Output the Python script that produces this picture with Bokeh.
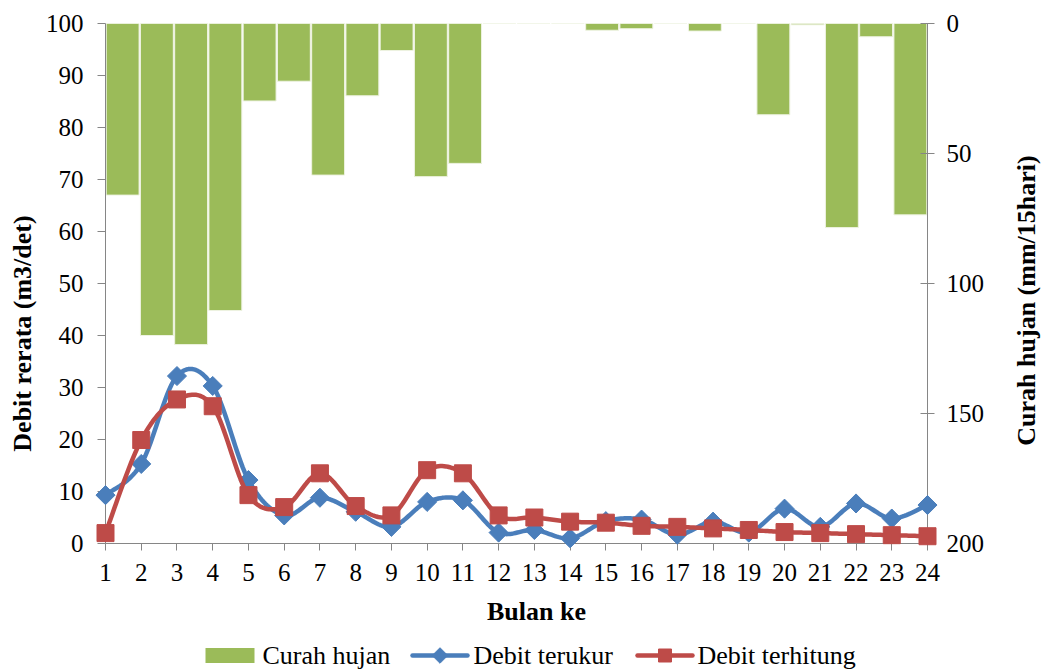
import numpy as np
from math import pi
from bokeh.plotting import figure
from bokeh.models import Range1d, LinearAxis, FixedTicker
from bokeh.core.properties import value
from bokeh.embed import file_html
from bokeh.resources import INLINE

# ---------------- data ----------------
bulan = list(range(1, 25))
curah_hujan = [66.0, 120.0, 123.5, 110.4, 29.8, 22.2, 58.3, 27.8, 10.4, 58.9, 53.8, 0.0,
               0.0, 0.0, 2.6, 2.0, 0.0, 2.9, 0.0, 35.1, 0.5, 78.5, 5.1, 73.6]
debit_terukur = [9.3, 15.3, 32.2, 30.3, 12.2, 5.4, 8.8, 6.1, 3.2, 8.0, 8.3, 2.1,
                 2.6, 1.0, 4.3, 4.6, 1.7, 4.2, 2.1, 6.7, 3.2, 7.7, 4.8, 7.4]
debit_terhitung = [2.0, 19.9, 27.7, 26.4, 9.3, 7.0, 13.5, 7.2, 5.4, 14.1, 13.5, 5.4,
                   5.0, 4.2, 4.0, 3.4, 3.2, 2.9, 2.6, 2.2, 2.0, 1.8, 1.6, 1.4]
left_ticks = list(range(0, 101, 10))
right_ticks = [0, 50, 100, 150, 200]
series_names = ["Curah hujan", "Debit terukur", "Debit terhitung"]
x_title = "Bulan ke"
y_title = "Debit rerata (m3/det)"
y2_title = "Curah hujan (mm/15hari)"

FONT = "Liberation Serif"
AX = "#868686"
GREEN = "#9BBB59"
BLUE = "#4A7EBB"
RED = "#BE4B48"

W, H = 1045, 669
FL, FT, FW, FH = 105, 23, 822, 520   # frame left/top/width/height in px


def smooth(xs, ys, n=20):
    """Excel-like smoothed line: cubic Bezier through the points (Catmull-Rom)."""
    P = np.column_stack([np.asarray(xs, float), np.asarray(ys, float)])
    m = len(P)
    out = []
    t = np.linspace(0, 1, n)[:, None]
    for i in range(m - 1):
        p0 = P[i - 1] if i > 0 else P[i]
        p1, p2 = P[i], P[i + 1]
        p3 = P[i + 2] if i + 2 < m else P[i + 1]
        c1 = p1 + (p2 - p0) / 6.0
        c2 = p2 - (p3 - p1) / 6.0
        seg = ((1 - t) ** 3) * p1 + 3 * ((1 - t) ** 2) * t * c1 + 3 * (1 - t) * t ** 2 * c2 + t ** 3 * p2
        out.append(seg if i == 0 else seg[1:])
    arr = np.vstack(out)
    return arr[:, 0], arr[:, 1]


p = figure(width=W, height=H, output_backend="svg", toolbar_location=None,
           x_range=Range1d(1, 24), y_range=Range1d(0, 100),
           min_border_left=FL, min_border_right=W - FL - FW, min_border_top=FT,
           min_border_bottom=H - FT - FH)
p.outline_line_color = None
p.xgrid.visible = False
p.ygrid.visible = False
p.background_fill_color = "white"
p.border_fill_color = "white"

p.extra_x_ranges = {"bars": Range1d(0.5, 24.5), "px": Range1d(0, FW)}
p.extra_y_ranges = {"rain": Range1d(start=200, end=0), "py": Range1d(0, FH)}

# bars (rainfall, hanging from top, secondary inverted axis)
bars = p.vbar(x=bulan, width=0.96, top=0, bottom=curah_hujan, x_range_name="bars",
              y_range_name="rain", fill_color=GREEN, line_color="#EEF3E2", line_width=1)

# smoothed lines + markers
bx, by = smooth(bulan, debit_terukur)
rx, ry = smooth(bulan, debit_terhitung)
p.line(bx, by, line_color=BLUE, line_width=4.5, line_join="round", line_cap="round", level="annotation")
p.scatter(bulan, debit_terukur, marker="square", angle=pi / 4, size=13.5,
          fill_color=BLUE, line_color=BLUE, level="annotation")
p.line(rx, ry, line_color=RED, line_width=4.5, line_join="round", line_cap="round", level="annotation")
p.scatter(bulan, debit_terhitung, marker="square", size=17,
          fill_color=RED, line_color=RED, level="annotation")

# axes
xa = p.xaxis[0]
xa.ticker = FixedTicker(ticks=bulan)
ya = p.yaxis[0]
ya.ticker = FixedTicker(ticks=left_ticks)
ra = LinearAxis(y_range_name="rain", ticker=FixedTicker(ticks=right_ticks))
p.add_layout(ra, "right")

for ax in (xa, ya, ra):
    ax.axis_line_color = AX
    ax.major_tick_line_color = AX
    ax.minor_tick_line_color = None
    ax.major_label_text_font = FONT
    ax.major_label_text_font_size = "25px"
    ax.major_label_text_color = "black"
xa.major_tick_out = 7
xa.major_tick_in = 0
xa.major_label_standoff = 13
ya.major_tick_out = 8
ya.major_tick_in = 0
ya.major_label_standoff = 14
ra.major_tick_out = 7
ra.major_tick_in = 7
ra.major_label_standoff = 12


# helper: place things in pixel space relative to the frame (x right, y up from frame bottom)
def px(page_x):
    return page_x - FL


def py(page_y):
    return FT + FH - page_y


tkw = dict(x_range_name="px", y_range_name="py", text_font=value(FONT), text_color="black",
           level="annotation")

# axis titles
p.text(x=[px(536)], y=[py(611)], text=[x_title], text_font_size="26px", text_font_style="bold",
       text_align="center", text_baseline="middle", **tkw)
p.text(x=[px(22)], y=[py(333)], text=[y_title], angle=pi / 2, text_font_size="26px",
       text_font_style="bold", text_align="center", text_baseline="middle", **tkw)
p.text(x=[px(1026)], y=[py(300)], text=[y2_title], angle=pi / 2, text_font_size="26px",
       text_font_style="bold", text_align="center", text_baseline="middle", **tkw)

# legend (drawn in pixel space below the plot)
ly = py(655)
rkw = dict(x_range_name="px", y_range_name="py", level="annotation")
p.rect(x=[px(229.5)], y=[ly], width=[49], height=[15], fill_color=GREEN, line_color=None, **rkw)
p.line(x=[px(412), px(467)], y=[ly, ly], line_color=BLUE, line_width=4.5, line_cap="round", **rkw)
p.rect(x=[px(439.5)], y=[ly], width=[11], height=[11], angle=pi / 4, fill_color=BLUE,
       line_color=BLUE, **rkw)
p.line(x=[px(637), px(692)], y=[ly, ly], line_color=RED, line_width=4.5, line_cap="round", **rkw)
p.rect(x=[px(664.5)], y=[ly], width=[13], height=[13], fill_color=RED, line_color=RED, **rkw)
p.text(x=[px(262), px(473), px(697)], y=[ly, ly, ly], text=series_names, text_font_size="26px",
       text_align="left", text_baseline="middle", **tkw)

open("out.html", "w").write(file_html(p, INLINE))
